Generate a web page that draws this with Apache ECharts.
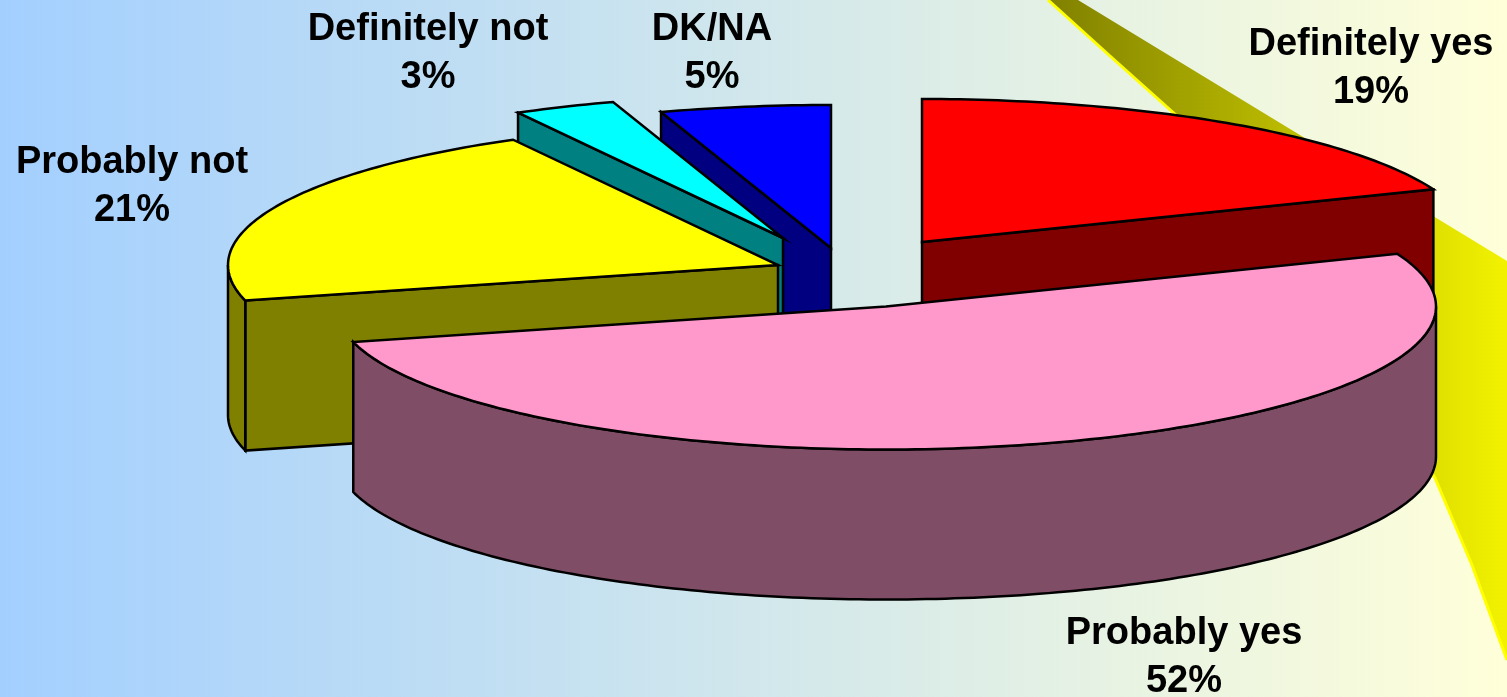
<!DOCTYPE html>
<html>
<head>
<meta charset="utf-8">
<title>Exploded pie</title>
<style>
  html, body { margin: 0; padding: 0; }
  #chart { width: 1507px; height: 697px; }
</style>
<script src="https://cdn.jsdelivr.net/npm/echarts@6/dist/echarts.min.js"></script>
</head>
<body>
<div id="chart"></div>
<script>
'use strict';

var categories = ['Definitely yes', 'Probably yes', 'Probably not', 'Definitely not', 'DK/NA'];
var shares = [19, 52, 21, 3, 5];

// --- layout and styles, per category
var topColors = ['#ff0000', '#ff99cc', '#ffff00', '#00ffff', '#0000ff'];
var sideColors = ['#800000', '#804d66', '#808000', '#008080', '#000080'];
var apexes = [[922, 242], [886, 306.5], [778, 265], [783, 238], [831, 248]];
var labelPositions = [[1371, 67], [1184, 656], [132, 185], [428, 52], [712, 52]];
var drawOrder = [4, 3, 2, 0, 1]; // back to front

var radiusX = 550;
var radiusY = 143;
var depth = 150;

var total = shares.reduce(function (a, b) { return a + b; }, 0);
var startAngles = [];
shares.reduce(function (acc, val, idx) {
  startAngles[idx] = acc;
  return acc + val / total * 360;
}, 0);

function rimPoint(apex, deg, drop) {
  var rad = deg * Math.PI / 180;
  return [apex[0] + radiusX * Math.sin(rad), apex[1] - radiusY * Math.cos(rad) + drop];
}

function arcPoints(apex, from, to, drop) {
  var pts = [];
  var steps = Math.max(2, Math.ceil(Math.abs(to - from)));
  for (var i = 0; i <= steps; i++) {
    pts.push(rimPoint(apex, from + (to - from) * i / steps, drop));
  }
  return pts;
}

function facePolygon(points, fill) {
  return {
    type: 'polygon',
    shape: { points: points },
    style: { fill: fill, stroke: '#000', lineWidth: 2.5, lineJoin: 'miter' }
  };
}

function radialFace(apex, deg, fill) {
  return facePolygon([
    rimPoint(apex, deg, 0),
    [apex[0], apex[1]],
    [apex[0], apex[1] + depth],
    rimPoint(apex, deg, depth)
  ], fill);
}

function renderSlice(params, api) {
  var idx = api.value(1);
  var from = startAngles[idx];
  var to = from + api.value(0) / total * 360;
  var apex = apexes[idx];
  var children = [];

  // --- only the faces turned to the viewer
  if (from > 180) {
    children.push(radialFace(apex, from, sideColors[idx]));
  }
  if (to < 180) {
    children.push(radialFace(apex, to, sideColors[idx]));
  }
  var arcFrom = Math.max(from, 90);
  var arcTo = Math.min(to, 270);
  if (arcFrom < arcTo) {
    children.push(facePolygon(
      arcPoints(apex, arcFrom, arcTo, 0).concat(arcPoints(apex, arcTo, arcFrom, depth)),
      sideColors[idx]
    ));
  }
  children.push(facePolygon([[apex[0], apex[1]]].concat(arcPoints(apex, from, to, 0)), topColors[idx]));

  children.push({
    type: 'text',
    z2: 10,
    style: {
      x: labelPositions[idx][0],
      y: labelPositions[idx][1] + 2,
      text: categories[idx] + '\n' + shares[idx] + '%',
      fill: '#000',
      font: 'bold 38px "Liberation Sans", Arial, sans-serif',
      lineHeight: 48,
      align: 'center',
      verticalAlign: 'middle'
    }
  });
  return { type: 'group', children: children };
}

var bandEdge = [[1048, 0], [1110, 56], [1177, 116], [1260, 205], [1350, 350], [1435, 478], [1472, 565], [1507, 660]];

var myChart = echarts.init(document.getElementById('chart'), null, { renderer: 'canvas' });
myChart.setOption({
  animation: false,
  backgroundColor: {
    type: 'linear', x: 0, y: 0, x2: 1, y2: 0,
    colorStops: [{ offset: 0, color: '#a3cfff' }, { offset: 1, color: '#ffffd9' }]
  },
  graphic: [{
    type: 'polygon',
    z: 0,
    silent: true,
    shape: { points: [[1078, 0], [1507, 261]].concat(bandEdge.slice().reverse()) },
    style: {
      fill: {
        type: 'linear', x: 0, y: 0, x2: 1, y2: 0,
        colorStops: [{ offset: 0, color: '#808000' }, { offset: 1, color: '#f2f200' }]
      }
    }
  }, {
    type: 'polyline',
    z: 1,
    silent: true,
    shape: { points: bandEdge },
    style: { fill: null, stroke: '#ffff00', lineWidth: 3 }
  }],
  series: [{
    type: 'custom',
    coordinateSystem: 'none',
    silent: true,
    z: 5,
    renderItem: renderSlice,
    data: drawOrder.map(function (i) { return [shares[i], i]; })
  }]
});
</script>
</body>
</html>
